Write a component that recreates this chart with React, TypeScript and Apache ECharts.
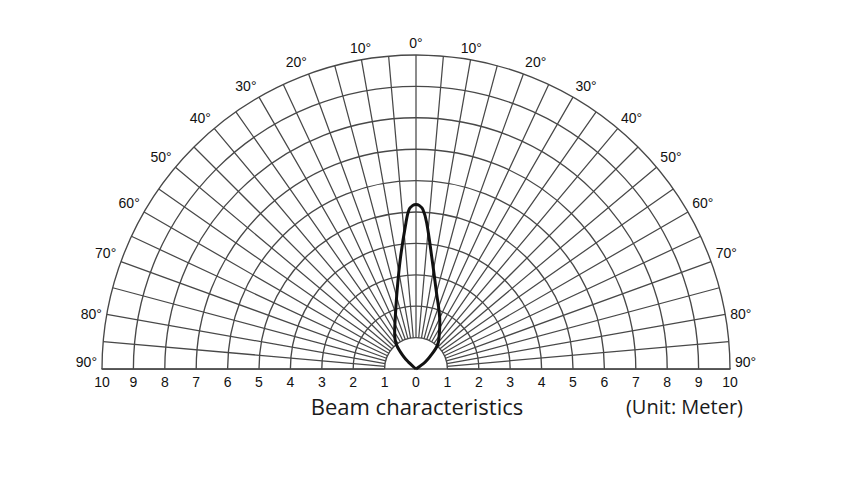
import React, { useEffect, useRef } from 'react';
import * as echarts from 'echarts';

// Angle axis (degrees from the vertical beam axis)
const angleMin = -90;
const angleMax = 90;
const angleStep = 5;
const angleLabelStep = 10;

// Distance rings (meters)
const ringMin = 1;
const ringMax = 10;
const xTickMin = -10;
const xTickMax = 10;

// Beam outline, in meters (x: lateral, y: forward distance)
const beamX = [0, 0.29, 0.45, 0.69, 0.74, 0.76, 0.64, 0.50, 0.34, 0.22, 0.1, 0, -0.1, -0.22, -0.32, -0.49, -0.60, -0.67, -0.68, -0.62, -0.40, -0.24, 0];
const beamY = [0, 0.22, 0.40, 0.77, 1.10, 1.47, 2.52, 3.58, 4.66, 5.08, 5.21, 5.24, 5.21, 5.08, 4.66, 3.58, 2.52, 1.47, 1.10, 0.77, 0.40, 0.22, 0];

const titleText = 'Beam characteristics';
const unitText = '(Unit: Meter)';

export default function App() {
  const ref = useRef<HTMLDivElement>(null);
  useEffect(() => {
    const chart = echarts.init(ref.current!, null, { renderer: 'svg' });
    const cx = 416;
    const cy = 369;
    const R = 314;
    const unit = R / ringMax;
    const gridColor = '#484848';
    const beamData = beamX.map((x, i) => [x, beamY[i]]);
    chart.setOption({
      animation: false,
      polar: { center: [cx, cy], radius: [unit * ringMin, R] },
      angleAxis: {
        type: 'value',
        min: angleMin,
        max: angleMax,
        interval: angleStep,
        startAngle: 180,
        endAngle: 0,
        clockwise: true,
        axisLine: { show: false },
        axisTick: { show: false },
        axisLabel: {
          margin: 5,
          color: '#111',
          fontSize: 14,
          fontFamily: 'Liberation Sans',
          formatter: (v: number) => {
            if (v % angleLabelStep !== 0) return '';
            const t = Math.abs(v) + '°';
            return Math.abs(v) === 90 ? '{e|' + t + '}' : t;
          },
          rich: {
            e: {
              fontSize: 14,
              fontFamily: 'Liberation Sans',
              color: '#111',
              padding: [0, 0, 14, 0],
            },
          },
        },
        splitLine: { show: true, lineStyle: { color: gridColor, width: 1.25 } },
      },
      radiusAxis: {
        type: 'value',
        min: ringMin,
        max: ringMax,
        interval: 1,
        axisLine: { show: false },
        axisTick: { show: false },
        axisLabel: { show: false },
        splitLine: { show: true, lineStyle: { color: gridColor, width: 1.35 } },
      },
      grid: {
        left: cx - R,
        top: cy - R,
        width: 2 * R,
        height: R,
        containLabel: false,
        outerBoundsMode: 'none',
      },
      xAxis: {
        type: 'value',
        min: xTickMin,
        max: xTickMax,
        interval: 1,
        axisLine: { show: true, onZero: false, lineStyle: { color: gridColor, width: 1.6 } },
        axisTick: { show: false },
        splitLine: { show: false },
        axisLabel: {
          margin: 6,
          color: '#111',
          fontSize: 14,
          fontFamily: 'Liberation Sans',
          formatter: (v: number) => String(Math.abs(v)),
        },
      },
      yAxis: {
        type: 'value',
        min: 0,
        max: ringMax,
        show: false,
      },
      series: [
        {
          type: 'line',
          data: beamData,
          smooth: 0.35,
          symbol: 'none',
          lineStyle: { color: '#111', width: 3 },
          clip: false,
          z: 10,
        },
      ],
      graphic: [
        {
          type: 'text',
          x: 417,
          y: 406,
          style: {
            text: titleText,
            fontSize: 22,
            fontFamily: 'Open Sans',
            fill: '#1a1a1a',
            align: 'center',
            verticalAlign: 'middle',
          },
        },
        {
          type: 'text',
          x: 743,
          y: 406,
          style: {
            text: unitText,
            fontSize: 20,
            fontFamily: 'Open Sans',
            fill: '#1a1a1a',
            align: 'right',
            verticalAlign: 'middle',
          },
        },
      ],
    });
    return () => chart.dispose();
  }, []);
  return (
    <div
      ref={ref}
      style={{ position: 'absolute', left: 0, top: 0, width: 867, height: 479, background: '#fff' }}
    />
  );
}
